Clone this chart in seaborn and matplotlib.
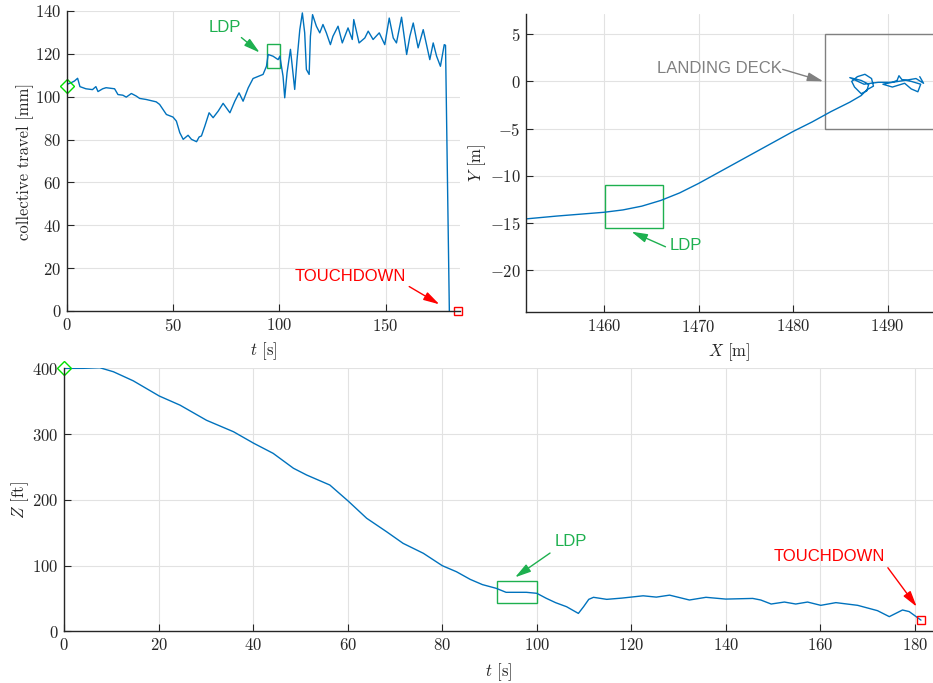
import numpy as np
import pandas as pd
import seaborn as sns
import matplotlib
matplotlib.use("Agg")
import matplotlib.pyplot as plt
from matplotlib.patches import Rectangle

# collective travel vs time
coll_t = [0, 1.9, 3.5, 5.0, 6.1, 8.9, 12.0, 13.6, 14.6, 16.8, 18.4, 22.4, 24.0, 26.3, 27.9,
          30.3, 32.6, 34.2, 37.3, 42.0, 43.6, 46.8, 49.9, 51.5, 53.1, 54.7, 57.0, 58.6, 61.0,
          62.2, 63.3, 64.9, 66.9, 68.8, 71.2, 73.5, 76.7, 79.0, 81.0, 82.9, 85.3, 87.6, 92.3,
          93.9, 94.7, 97.0, 99.4, 100.2, 101.7, 102.5, 103.6, 105.2, 107.2, 108.3, 109.6,
          110.8, 111.9, 112.7, 114.0, 114.6, 115.6, 117.4, 119.0, 120.5, 122.1, 124.0, 125.2,
          127.6, 129.6, 132.3, 134.3, 135.0, 137.5, 140.2, 141.8, 144.1, 147.0, 149.6, 151.7,
          153.6, 155.1, 157.5, 159.9, 161.4, 163.0, 165.3, 167.7, 170.8, 172.4, 174.0, 175.8,
          177.6, 178.2, 180.0]
coll_mm = [105.8, 106.5, 107.3, 108.6, 104.7, 103.7, 103.3, 104.7, 102.4, 103.7, 104.2, 103.7,
           101.0, 100.7, 99.8, 101.5, 100.3, 99.2, 98.7, 97.6, 96.4, 91.7, 90.5, 88.6, 83.2,
           80.1, 82.0, 80.1, 79.0, 81.2, 81.7, 86.3, 92.5, 90.2, 93.3, 96.9, 92.5, 97.9, 101.8,
           97.9, 104.1, 108.5, 110.4, 114.2, 119.7, 118.9, 117.3, 118.9, 109.6, 99.5, 111.2,
           122.1, 103.4, 117.3, 131.3, 139.1, 129.8, 112.7, 110.4, 128.2, 138.3, 132.9, 129.8,
           133.7, 129.8, 124.3, 128.2, 132.9, 125.1, 132.1, 126.7, 136.0, 125.1, 127.4, 130.6,
           126.7, 129.8, 124.3, 136.7, 127.4, 125.1, 137.1, 119.7, 128.2, 134.4, 122.8, 131.3,
           117.3, 125.1, 118.9, 114.2, 124.3, 124.0, 0.0]

# horizontal track X/Y
track_x = [1451.75, 1455, 1460, 1462, 1464, 1466, 1468, 1470, 1472, 1474, 1476, 1478, 1480,
           1482, 1484, 1486, 1487.2, 1487.8, 1488.5, 1488.3, 1487.6, 1486.8, 1486.2, 1486.5,
           1487.2, 1487.8, 1488.0, 1487.2, 1486.0, 1487.5, 1489.0, 1490.5, 1491.0, 1491.2,
           1491.5, 1492.5, 1493.5, 1493.2, 1492.5, 1491.8, 1490.5, 1489.5, 1490.5, 1491.8,
           1493.0, 1493.8, 1493.4]
track_y = [-14.55, -14.25, -13.85, -13.6, -13.2, -12.6, -11.8, -10.8, -9.7, -8.6, -7.5, -6.4,
           -5.3, -4.3, -3.2, -2.2, -1.5, -0.9, -0.5, 0.3, 0.75, 0.5, 0.0, -0.6, -1.3, -1.0,
           -0.3, 0.1, 0.4, -0.3, -0.1, -0.1, 0.1, 0.6, 0.2, 0.0, -0.3, -1.1, -0.8, -0.2, -0.6,
           -0.3, -0.1, 0.1, 0.3, -0.2, 0.5]

# height vs time
z_t = [0, 4, 7.5, 10.4, 14.6, 20.1, 24.5, 30.1, 35.8, 40.1, 44.2, 48.5, 51.3, 56.2, 60.1,
       64.0, 68.2, 71.7, 76.0, 80.0, 83.0, 85.9, 88.5, 91.4, 93.5, 97.8, 100.0, 102.0, 104.0,
       106.3, 108.8, 109.9, 111.0, 112.0, 114.8, 118.0, 122.5, 125.3, 128.1, 132.3, 135.8,
       140.0, 145.7, 147.4, 149.6, 152.4, 154.8, 157.3, 160.1, 163.3, 167.9, 172.1, 174.6,
       177.4, 178.8, 181.3]
z_ft = [400, 400, 401, 394.8, 381, 357.9, 344, 321, 303.6, 286, 270.7, 248, 237.7, 222.5, 198,
        171.9, 151.5, 133.8, 118.6, 99.8, 90.6, 79, 71, 65.4, 59.3, 59.3, 57.8, 50.2, 43.5,
        37.4, 27.2, 37.4, 48.6, 51.7, 48.6, 50.5, 54, 52, 55, 47.6, 51.7, 49, 50, 47.6, 41.5,
        44.5, 41.5, 44.5, 39.5, 43.6, 39.5, 31.4, 22.3, 32.4, 30, 17]

BLUE = "#0072BD"
GREEN = "#1DB04F"
RED = "#FF0000"
GRAY = "#808080"
SANS = "Liberation Sans"

sns.set_theme(style="whitegrid")
plt.rcParams.update({
    "font.family": "serif",
    "font.serif": ["cmr10"],
    "mathtext.fontset": "cm",
    "axes.unicode_minus": False,
    "axes.formatter.use_mathtext": True,
})

df_coll = pd.DataFrame({"t": coll_t, "c": coll_mm})
df_track = pd.DataFrame({"x": track_x, "y": track_y})
df_z = pd.DataFrame({"t": z_t, "z": z_ft})

fig = plt.figure(figsize=(9.33, 6.83), dpi=100)
ax1 = fig.add_axes([0.0718, 0.5447, 0.4212, 0.4392])
ax2 = fig.add_axes([0.5638, 0.5432, 0.4362, 0.4359])
ax3 = fig.add_axes([0.0689, 0.0757, 0.9311, 0.385])


def style(ax):
    for s in ["top", "right"]:
        ax.spines[s].set_visible(False)
    for s in ["left", "bottom"]:
        ax.spines[s].set_color("#262626")
        ax.spines[s].set_linewidth(1.0)
    ax.grid(True, color="#e2e2e2", lw=0.8)
    ax.set_axisbelow(True)
    ax.tick_params(direction="in", length=5, width=0.8, colors="#262626",
                   labelsize=12, pad=4, bottom=True, left=True)
    ax.set_facecolor("white")


def arrow(ax, tail, tip, color):
    ax.annotate("", xy=tip, xytext=tail,
                arrowprops=dict(arrowstyle="-|>,head_length=0.8,head_width=0.22",
                                color=color, lw=1, shrinkA=0, shrinkB=0))


# top left: collective
sns.lineplot(data=df_coll, x="t", y="c", sort=False, estimator=None, color=BLUE, lw=1, ax=ax1)
ax1.plot([0], [105], marker="D", ms=7, mfc="none", mec="#00E000", mew=1, clip_on=False)
ax1.plot([184], [0], marker="s", ms=6, mfc="none", mec=RED, mew=1, clip_on=False)
ax1.add_patch(Rectangle((94, 113.3), 6.1, 11.2, fill=False, ec=GREEN, lw=1))
ax1.text(74.2, 132.2, "LDP", color=GREEN, fontsize=12, family=SANS, ha="center", va="center")
arrow(ax1, (82.1, 127.6), (90.7, 120.6), GREEN)
ax1.text(133.2, 16.0, "TOUCHDOWN", color=RED, fontsize=12, family=SANS, ha="center", va="center")
arrow(ax1, (161.1, 11.4), (175.3, 3.1), RED)
ax1.set_xlim(0, 185)
ax1.set_ylim(0, 140)
ax1.set_xticks([0, 50, 100, 150])
ax1.set_yticks(np.arange(0, 141, 20))
ax1.set_xlabel(r"$t$ [s]", fontsize=12, labelpad=5)
ax1.set_ylabel("collective travel [mm]", fontsize=12, labelpad=1)
style(ax1)

# top right: track
sns.lineplot(data=df_track, x="x", y="y", sort=False, estimator=None, color=BLUE, lw=1, ax=ax2)
ax2.add_patch(Rectangle((1483.4, -5), 20, 10, fill=False, ec=GRAY, lw=1))
ax2.add_patch(Rectangle((1460.1, -15.5), 6.1, 4.5, fill=False, ec=GREEN, lw=1))
ax2.text(1472.2, 1.35, "LANDING DECK", color=GRAY, fontsize=12, family=SANS, ha="center", va="center")
arrow(ax2, (1478.9, 1.27), (1483.2, 0.0), GRAY)
ax2.text(1468.7, -17.4, "LDP", color=GREEN, fontsize=12, family=SANS, ha="center", va="center")
arrow(ax2, (1466.5, -17.5), (1462.9, -15.9), GREEN)
ax2.set_xlim(1451.75, 1494.8)
ax2.set_ylim(-24.4, 7.1)
ax2.set_xticks([1460, 1470, 1480, 1490])
ax2.set_yticks([-20, -15, -10, -5, 0, 5])
ax2.set_xlabel(r"$X$ [m]", fontsize=12, labelpad=5)
ax2.set_ylabel(r"$Y$ [m]", fontsize=12, labelpad=1)
style(ax2)

# bottom: height
sns.lineplot(data=df_z, x="t", y="z", sort=False, estimator=None, color=BLUE, lw=1, ax=ax3)
ax3.plot([0], [400], marker="D", ms=7, mfc="none", mec="#00E000", mew=1, clip_on=False)
ax3.plot([181.3], [17], marker="s", ms=6, mfc="none", mec=RED, mew=1, clip_on=False)
ax3.add_patch(Rectangle((91.5, 42.5), 8.5, 34, fill=False, ec=GREEN, lw=1))
ax3.text(107.1, 136.3, "LDP", color=GREEN, fontsize=12, family=SANS, ha="center", va="center")
arrow(ax3, (102.8, 119), (95.4, 82.1), GREEN)
ax3.text(161.9, 113.5, "TOUCHDOWN", color=RED, fontsize=12, family=SANS, ha="center", va="center")
arrow(ax3, (174.3, 96.7), (180.4, 37.4), RED)
ax3.set_xlim(0, 183.85)
ax3.set_ylim(0, 400)
ax3.set_xticks(np.arange(0, 181, 20))
ax3.set_yticks(np.arange(0, 401, 100))
ax3.set_xlabel(r"$t$ [s]", fontsize=12, labelpad=6)
ax3.set_ylabel(r"$Z$ [ft]", fontsize=12, labelpad=1)
style(ax3)

fig.savefig("out.png", dpi=100)
